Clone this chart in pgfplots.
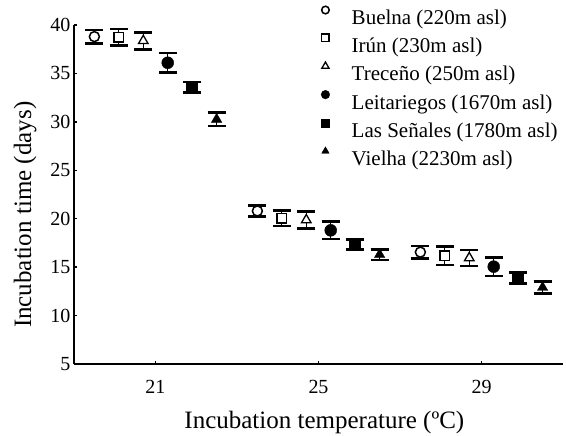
\documentclass[border=0pt]{standalone}
\usepackage{fontspec}
\setmainfont{Liberation Serif}
\usepackage{pgfplots}
\pgfplotsset{compat=1.18}
\begin{document}
\begin{tikzpicture}
\useasboundingbox (-74pt,-72pt) rectangle (492pt,364pt);
\begin{axis}[
  at={(0pt,0pt)}, anchor=south west,
  scale only axis, width=489pt, height=339pt,
  xmin=19, xmax=31, ymin=5, ymax=40,
  clip=false,
  axis x line*=bottom, axis y line*=left,
  axis line style={-, line width=1.7pt, black},
  xtick={21,25,29}, ytick={5,10,...,40},
  tick align=inside, major tick length=3pt,
  tick style={line width=1.4pt, black},
  /pgf/number format/assume math mode=true,
  tick label style={font=\fontsize{20}{24}\selectfont},
  xticklabel style={yshift=-13pt},
  xlabel={Incubation temperature (ºC)},
  ylabel={Incubation time (days)},
  label style={font=\fontsize{25}{30}\selectfont},
  xlabel style={at={(axis description cs:0.512,-0.173)}, anchor=center},
  ylabel style={at={(axis description cs:-0.1,0.44)}, anchor=center, rotate=0},
  every axis plot/.append style={only marks},
  error bars/y dir=both, error bars/y explicit,
  error bars/error bar style={line width=1.3pt, black},
  error bars/error mark options={line width=2.6pt, mark size=9pt, black, rotate=90},
  legend cell align=left,
  legend style={at={(axis description cs:0.505,1.056)}, anchor=north west,
    draw=none, fill=none, inner sep=0pt, column sep=22pt, row sep=4.6pt,
    font=\fontsize{21}{25}\selectfont,
    nodes={inner xsep=0pt, inner ysep=0pt, text height=16pt, text depth=5pt}},
  legend image code/.code={\draw[#1] plot coordinates {(0pt,9pt)};},
]
\addplot[mark=*, mark size=5pt, mark options={fill=white, draw=black, line width=1.5pt},
  legend image post style={mark size=3.8pt}]
  coordinates {(19.5,38.8) +- (0,0.7) (23.5,20.8) +- (0,0.57) (27.5,16.55) +- (0,0.63)};
\addlegendentry{Buelna (220m asl)}
\addplot[mark=square*, mark size=4.8pt, mark options={fill=white, draw=black, line width=1.5pt},
  legend image post style={mark size=3.8pt}]
  coordinates {(20.1,38.73) +- (0,0.85) (24.1,20.04) +- (0,0.8) (28.1,16.17) +- (0,0.95)};
\addlegendentry{Irún (230m asl)}
\addplot[mark=triangle*, mark size=5.5pt, mark options={fill=white, draw=black, line width=1.3pt},
  legend image post style={mark size=4.2pt}]
  coordinates {(20.7,38.37) +- (0,0.88) (24.7,19.87) +- (0,0.86) (28.7,15.95) +- (0,0.83)};
\addlegendentry{Treceño (250m asl)}
\addplot[mark=*, mark size=6pt, mark options={fill=black, draw=black},
  legend image post style={mark size=4.3pt}]
  coordinates {(21.3,36.1) +- (0,1.0) (25.3,18.8) +- (0,0.9) (29.3,15.05) +- (0,0.97)};
\addlegendentry{Leitariegos (1670m asl)}
\addplot[mark=square*, mark size=5.5pt, mark options={fill=black, draw=black},
  legend image post style={mark size=4pt}]
  coordinates {(21.9,33.57) +- (0,0.55) (25.9,17.35) +- (0,0.52) (29.9,13.88) +- (0,0.55)};
\addlegendentry{Las Señales (1780m asl)}
\addplot[mark=triangle*, mark size=6pt, mark options={fill=black, draw=black},
  legend image post style={mark size=4.3pt}]
  coordinates {(22.5,30.26) +- (0,0.7) (26.5,16.3) +- (0,0.55) (30.5,12.9) +- (0,0.6)};
\addlegendentry{Vielha (2230m asl)}
\end{axis}
\end{tikzpicture}
\end{document}
